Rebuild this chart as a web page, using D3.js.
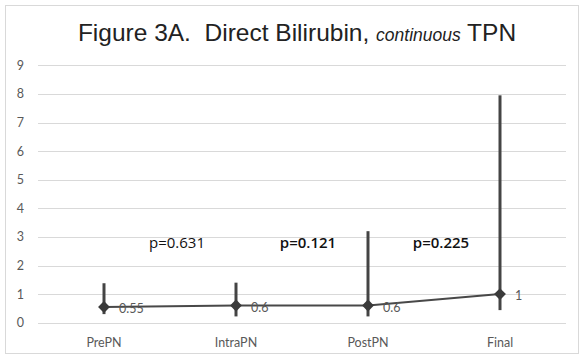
<!DOCTYPE html>
<html>
<head>
<meta charset="utf-8">
<script src="https://cdn.jsdelivr.net/npm/d3@7"></script>
<style>
  body { margin: 0; background: #fff; }
  svg { display: block; }
</style>
</head>
<body>
<svg width="584" height="359"></svg>
<script>
// Data set
var categories = ["PrePN", "IntraPN", "PostPN", "Final"];
var medians = [0.55, 0.6, 0.6, 1];
var valueLabels = ["0.55", "0.6", "0.6", "1"];
var highs = [1.38, 1.4, 3.2, 7.95];
var lows = [0.3, 0.22, 0.22, 0.44];
var yTicks = [0, 1, 2, 3, 4, 5, 6, 7, 8, 9];
var pLabels = ["p=0.631", "p=0.121", "p=0.225"];
var pValueY = [2.6, 2.6, 2.6];

var svg = d3.select("svg");
var width = 584, height = 359;

// chart border
svg.append("rect")
  .attr("x", 5.5).attr("y", 5.5)
  .attr("width", width - 11).attr("height", height - 11)
  .attr("fill", "#fff").attr("stroke", "#d9d9d9");

// title
var title = svg.append("text")
  .attr("x", 297).attr("y", 41)
  .attr("text-anchor", "middle")
  .attr("font-family", "Liberation Sans, Arial, sans-serif")
  .attr("font-size", "24.5px")
  .attr("fill", "#222");
title.append("tspan").text("Figure 3A.  Direct Bilirubin, ").attr("xml:space", "preserve");
title.append("tspan").text("continuous").attr("font-style", "italic").attr("font-size", "17.5px");
title.append("tspan").text(" TPN");

// scales
var xScale = d3.scaleBand().domain(categories).range([38, 566]);
var yScale = d3.scaleLinear().domain([0, 9]).range([322.7, 65.3]);

// gridlines
svg.selectAll(".grid")
  .data(yTicks)
  .enter().append("line")
  .attr("x1", 38).attr("x2", 566)
  .attr("y1", function(d) { return Math.round(yScale(d)) + 0.5; })
  .attr("y2", function(d) { return Math.round(yScale(d)) + 0.5; })
  .attr("stroke", "#d9d9d9").attr("stroke-width", 1);

// y labels
svg.selectAll(".ylab")
  .data(yTicks)
  .enter().append("text")
  .attr("x", 24)
  .attr("y", function(d) { return yScale(d) + 4.5; })
  .attr("text-anchor", "end")
  .attr("font-family", "Lato, Open Sans, sans-serif")
  .attr("font-size", "12.5px")
  .attr("fill", "#595959")
  .text(function(d) { return d; });

// x labels
svg.selectAll(".xlab")
  .data(categories)
  .enter().append("text")
  .attr("x", function(d) { return xScale(d) + xScale.bandwidth() / 2; })
  .attr("y", 347)
  .attr("text-anchor", "middle")
  .attr("font-family", "Lato, Open Sans, sans-serif")
  .attr("font-size", "12.5px")
  .attr("fill", "#595959")
  .text(function(d) { return d; });

var cx = function(i) { return xScale(categories[i]) + xScale.bandwidth() / 2; };

// error bars
svg.selectAll(".err")
  .data(categories)
  .enter().append("line")
  .attr("x1", function(d, i) { return cx(i); })
  .attr("x2", function(d, i) { return cx(i); })
  .attr("y1", function(d, i) { return yScale(highs[i]); })
  .attr("y2", function(d, i) { return yScale(lows[i]); })
  .attr("stroke", "#444").attr("stroke-width", 3);

// median line
svg.append("path")
  .datum(medians)
  .attr("fill", "none")
  .attr("stroke", "#484848")
  .attr("stroke-width", 2)
  .attr("d", d3.line()
    .x(function(d, i) { return cx(i); })
    .y(function(d) { return yScale(d); }));

// markers
svg.selectAll(".mk")
  .data(medians)
  .enter().append("path")
  .attr("transform", function(d, i) { return "translate(" + cx(i) + "," + yScale(d) + ")"; })
  .attr("d", d3.symbol().type(d3.symbolDiamond2).size(90))
  .attr("fill", "#3a3a3a");

// value labels
svg.selectAll(".vlab")
  .data(medians)
  .enter().append("text")
  .attr("x", function(d, i) { return cx(i) + 15; })
  .attr("y", function(d) { return yScale(d) + 6; })
  .attr("font-family", "Lato, Open Sans, sans-serif")
  .attr("font-size", "12.5px")
  .attr("fill", "#595959")
  .text(function(d, i) { return valueLabels[i]; });

// p values between categories
svg.selectAll(".pval")
  .data(pLabels)
  .enter().append("text")
  .attr("x", function(d, i) { return (cx(i) + cx(i + 1)) / 2 + [7, 6, 7][i]; })
  .attr("y", function(d, i) { return yScale(pValueY[i]); })
  .attr("text-anchor", "middle")
  .attr("font-family", "Open Sans, sans-serif")
  .attr("font-size", "15px")
  .attr("font-weight", function(d, i) { return i === 0 ? "normal" : "600"; })
  .attr("fill", "#111")
  .text(function(d) { return d; });
</script>
</body>
</html>
